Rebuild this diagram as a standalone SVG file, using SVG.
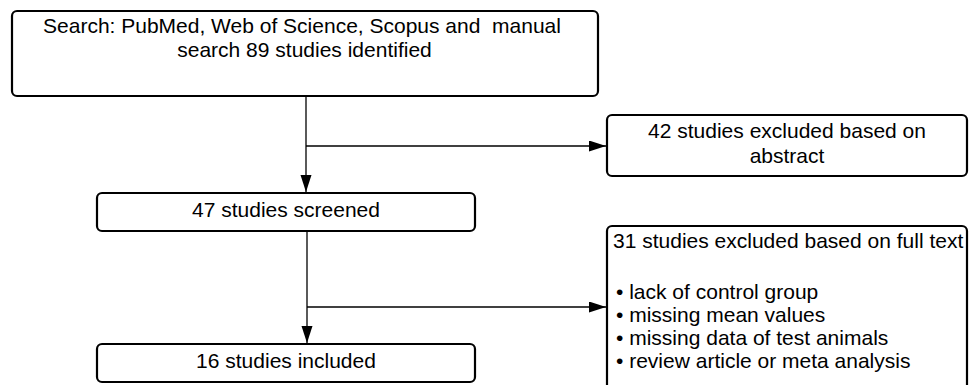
<svg xmlns="http://www.w3.org/2000/svg" width="976" height="385" viewBox="0 0 976 385">
<defs>
<style>
.box{fill:#fff;stroke:#000;stroke-width:2.2}
.t{font-family:"Liberation Sans",Arial,sans-serif;font-size:21px;fill:#000}
.c{text-anchor:middle}
.ln{fill:none;stroke:#000;stroke-width:1.3}
</style>
<marker id="ah" markerUnits="userSpaceOnUse" markerWidth="17" markerHeight="12" refX="17" refY="5.5" orient="auto">
<path d="M0,0 L17,5.5 L0,11 z" fill="#000"/>
</marker>
</defs>
<rect width="976" height="385" fill="#fff"/>
<g id="connectors">
<path class="ln" d="M306,96 V192" marker-end="url(#ah)"/>
<path class="ln" d="M306,146 H606" marker-end="url(#ah)"/>
<path class="ln" d="M307,231 V343" marker-end="url(#ah)"/>
<path class="ln" d="M307,307 H606" marker-end="url(#ah)"/>
</g>
<g id="search">
<rect class="box" x="12" y="11" width="586" height="85" rx="5"/>
<text class="t c" x="302" y="33" xml:space="preserve">Search: PubMed, Web of Science, Scopus and  manual</text>
<text class="t c" x="304.5" y="57">search 89 studies identified</text>
</g>
<g id="excluded-abstract">
<rect class="box" x="607" y="115" width="360" height="61" rx="5"/>
<text class="t c" x="787" y="138">42 studies excluded based on</text>
<text class="t c" x="787" y="163">abstract</text>
</g>
<g id="screened">
<rect class="box" x="97" y="193" width="378" height="38" rx="5"/>
<text class="t c" x="286" y="217">47 studies screened</text>
</g>
<g id="excluded-fulltext">
<rect class="box" x="607" y="226" width="360" height="165" rx="5"/>
<text class="t" x="613" y="248">31 studies excluded based on full text</text>
<text class="t" x="616" y="299">• lack of control group</text>
<text class="t" x="616" y="322">• missing mean values</text>
<text class="t" x="616" y="345">• missing data of test animals</text>
<text class="t" x="616" y="368">• review article or meta analysis</text>
</g>
<g id="included">
<rect class="box" x="97" y="344" width="378" height="38" rx="5"/>
<text class="t c" x="286" y="368">16 studies included</text>
</g>
</svg>
